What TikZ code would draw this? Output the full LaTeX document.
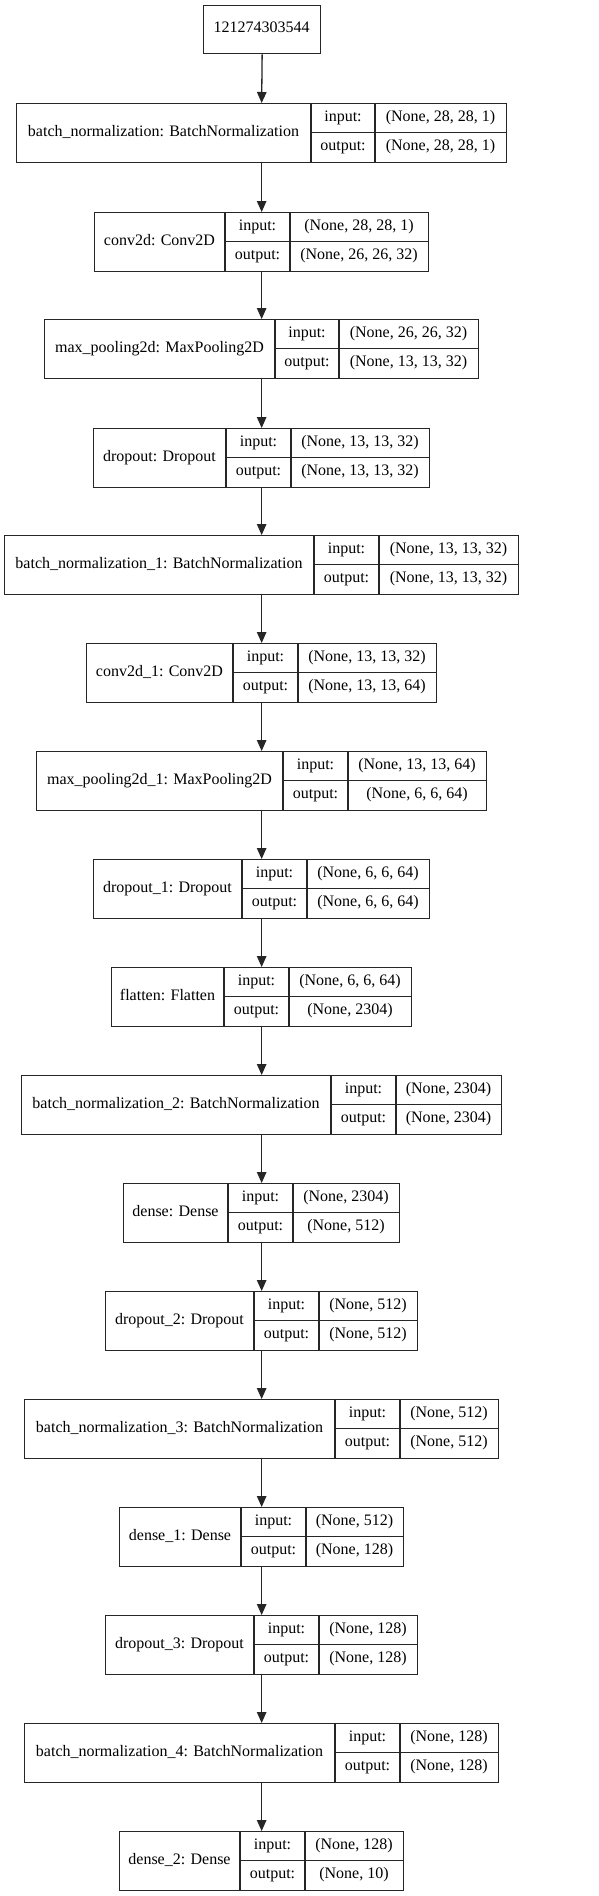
\documentclass[tikz,border=0pt]{standalone}
\usepackage{fontspec}
\setmainfont{Liberation Serif}
\usetikzlibrary{arrows.meta}
\tikzset{
  x={(1pt,0)}, y={(0,-1pt)},
  ln/.style={line width=1.3pt, draw=black!85},
  box/.style={ln, inner sep=0pt, minimum height=59pt, rectangle},
  txt/.style={inner sep=0pt, font=\fontsize{16pt}{19pt}\selectfont, text height=11pt, text depth=3.5pt},
  conn/.style={ln, -{Triangle[length=11pt,width=9.5pt]}}
}
\newcommand\nnlayer[9]{%
  \node[box, minimum width={(#6-#3)*1pt}, anchor=north west] (#1) at (#3,#2) {};
  \draw[ln] (#4,#2) -- (#4,#2+59);
  \draw[ln] (#5,#2) -- (#5,#2+59);
  \draw[ln] (#4,#2+29.5) -- (#6,#2+29.5);
  \node[txt] (#1-name) at ({(#3+#4)/2},{#2+29.5}) {#7};
  \node[txt] (#1-inl) at ({(#4+#5)/2},{#2+15}) {input:};
  \node[txt] (#1-outl) at ({(#4+#5)/2},{#2+44}) {output:};
  \node[txt] (#1-in) at ({(#5+#6)/2},{#2+15}) {#8};
  \node[txt] (#1-out) at ({(#5+#6)/2},{#2+44}) {#9};
}
\begin{document}
\begin{tikzpicture}
\fill[white] (0,0) rectangle (598,1896);
\useasboundingbox (0,0) rectangle (598,1896);
\node[box, minimum width=117pt, minimum height=48pt, anchor=north west] (top) at (203,5) {};
\node[txt] (top-t) at (261.5,29) {121274303544};
\nnlayer{l1}{103}{16}{311}{375}{506}{batch\_normalization: BatchNormalization}{(None, 28, 28, 1)}{(None, 28, 28, 1)}
\nnlayer{l2}{212}{94}{225}{290}{428}{conv2d: Conv2D}{(None, 28, 28, 1)}{(None, 26, 26, 32)}
\nnlayer{l3}{319}{44}{275}{339}{478}{max\_pooling2d: MaxPooling2D}{(None, 26, 26, 32)}{(None, 13, 13, 32)}
\nnlayer{l4}{428}{93}{226}{291}{429}{dropout: Dropout}{(None, 13, 13, 32)}{(None, 13, 13, 32)}
\nnlayer{l5}{535}{4}{314}{379}{518}{batch\_normalization\_1: BatchNormalization}{(None, 13, 13, 32)}{(None, 13, 13, 32)}
\nnlayer{l6}{643}{86}{233}{298}{436}{conv2d\_1: Conv2D}{(None, 13, 13, 32)}{(None, 13, 13, 64)}
\nnlayer{l7}{751}{36}{283}{348}{486}{max\_pooling2d\_1: MaxPooling2D}{(None, 13, 13, 64)}{(None, 6, 6, 64)}
\nnlayer{l8}{859}{93}{242}{307}{429}{dropout\_1: Dropout}{(None, 6, 6, 64)}{(None, 6, 6, 64)}
\nnlayer{l9}{967}{111}{224}{289}{411}{flatten: Flatten}{(None, 6, 6, 64)}{(None, 2304)}
\nnlayer{l10}{1075}{21}{331}{396}{501}{batch\_normalization\_2: BatchNormalization}{(None, 2304)}{(None, 2304)}
\nnlayer{l11}{1183}{123}{228}{293}{399}{dense: Dense}{(None, 2304)}{(None, 512)}
\nnlayer{l12}{1291}{105}{254}{319}{417}{dropout\_2: Dropout}{(None, 512)}{(None, 512)}
\nnlayer{l13}{1399}{24}{335}{400}{498}{batch\_normalization\_3: BatchNormalization}{(None, 512)}{(None, 512)}
\nnlayer{l14}{1507}{119}{241}{306}{403}{dense\_1: Dense}{(None, 512)}{(None, 128)}
\nnlayer{l15}{1615}{105}{254}{319}{417}{dropout\_3: Dropout}{(None, 128)}{(None, 128)}
\nnlayer{l16}{1723}{24}{335}{400}{498}{batch\_normalization\_4: BatchNormalization}{(None, 128)}{(None, 128)}
\nnlayer{l17}{1831}{119}{240}{305}{403}{dense\_2: Dense}{(None, 128)}{(None, 10)}
\draw[conn] (top.south) -- (l1.north);
\foreach \a/\b in {1/2,2/3,3/4,4/5,5/6,6/7,7/8,8/9,9/10,10/11,11/12,12/13,13/14,14/15,15/16,16/17}
  \draw[conn] (l\a.south) -- (l\b.north);
\end{tikzpicture}
\end{document}
